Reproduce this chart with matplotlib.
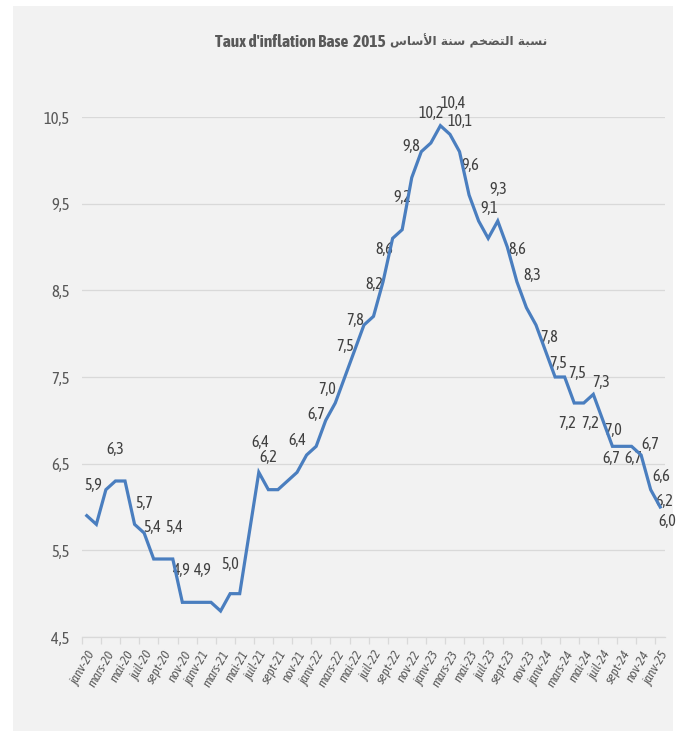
import numpy as np
import matplotlib
matplotlib.use("Agg")
import matplotlib.pyplot as plt
from matplotlib import font_manager
from matplotlib.patches import Rectangle

# monthly inflation rate, janv-20 .. janv-25
months = ["janv", "févr", "mars", "avr", "mai", "juin",
          "juil", "août", "sept", "oct", "nov", "déc"]
years = ["20", "21", "22", "23", "24", "25"]
categories = [m + "-" + y for y in years for m in months][:61]

rate = [5.9, 5.8, 6.2, 6.3, 6.3, 5.8, 5.7, 5.4, 5.4, 5.4, 4.9, 4.9,
        4.9, 4.9, 4.8, 5.0, 5.0, 5.7, 6.4, 6.2, 6.2, 6.3, 6.4, 6.6,
        6.7, 7.0, 7.2, 7.5, 7.8, 8.1, 8.2, 8.6, 9.1, 9.2, 9.8, 10.1,
        10.2, 10.4, 10.3, 10.1, 9.6, 9.3, 9.1, 9.3, 9.0, 8.6, 8.3, 8.1,
        7.8, 7.5, 7.5, 7.2, 7.2, 7.3, 7.0, 6.7, 6.7, 6.7, 6.6, 6.2,
        6.0]

# which points carry a data label, and where the label sits (pixels)
label_idx = [0, 3, 6, 7, 9, 10, 12, 15, 18, 19, 22, 24, 25, 27, 28, 30,
             31, 33, 34, 36, 37, 39, 40, 42, 43, 45, 46, 48, 49, 50, 51,
             52, 53, 54, 55, 56, 57, 58, 59, 60]
label_off = [(6, 30), (0, 32), (0, 30), (-1, 31), (1, 31), (-1, 32), (1, 32),
             (0, 29), (1, 30), (0, 32), (0, 32), (0, 32), (1, 31), (0, 31),
             (1, 31), (1, 32), (1, 32), (0, 32), (0, 31), (0, 30), (13, 22),
             (1, 30), (1, 30), (1, 30), (1, 31), (0, 32), (6, 32), (4, 14),
             (3, 14), (12, 4), (-7, -20), (6, -20), (8, 12), (10, -10),
             (-1, -12), (11, -12), (19, 2), (20, -21), (14, -12), (7, -15)]

yticks = [4.5, 5.5, 6.5, 7.5, 8.5, 9.5, 10.5]

# title, arabic part written in visual order with presentation forms
title_fr = "Taux d'inflation Base  2015"
ar_asas = "\uFEB1\uFE8E\uFEB3\uFEF7\uFE8D"
ar_sana = "\uFE94\uFEE8\uFEB3"
ar_tadakhum = "\uFEE2\uFEA8\uFEC0\uFE98\uFEDF\uFE8D"
ar_nisba = "\uFE94\uFE92\uFEB4\uFEE7"
title_ar = ar_asas + " " + ar_sana + " " + ar_tadakhum + " " + ar_nisba

# look for a narrow face (reference uses a condensed font), prefer one with a bold
weights = {}
for f in font_manager.fontManager.ttflist:
    if "Narrow" in f.name or "Condensed" in f.name:
        w = f.weight if isinstance(f.weight, int) else 400
        weights.setdefault(f.name, set()).add(w)
narrow = None
for name, ws in weights.items():
    if max(ws) >= 600:
        narrow = name
        break
if narrow is None and weights:
    narrow = list(weights)[0]
if narrow is None:
    narrow = "Liberation Sans"
fam = [narrow, "DejaVu Sans"]

line_col = "#4A7EBF"
grid_col = "#D9D9D9"
txt_col = "#595959"
bg = "#F2F2F2"

fig = plt.figure(figsize=(6.78, 7.31), dpi=100, facecolor="white")
fig.patches.append(Rectangle((13 / 678, 0), 660 / 678, 725 / 731,
                             transform=fig.transFigure, facecolor=bg,
                             edgecolor="none", zorder=-10))
ax = fig.add_axes([82 / 678, 94 / 731, 583 / 678, 520 / 731])
ax.set_facecolor(bg)

x = np.arange(len(rate))
ax.plot(x, rate, color=line_col, lw=2.3, solid_joinstyle="miter", zorder=3)

for i, (dx, dy) in zip(label_idx, label_off):
    ax.annotate(f"{rate[i]:.1f}".replace(".", ","), (x[i], rate[i]),
                xytext=(dx, dy), textcoords="offset pixels",
                ha="center", va="center", fontsize=11.5, color="#404040",
                family=fam, zorder=2)

ax.set_xlim(-0.5, 60.5)
ax.set_ylim(4.5, 10.5)
ax.set_yticks(yticks)
ax.set_yticklabels([f"{v:.1f}".replace(".", ",") for v in yticks],
                   family=fam, fontsize=12, color=txt_col)
ax.tick_params(axis="y", length=0, pad=9)
ax.grid(axis="y", color=grid_col, lw=0.9)
ax.set_axisbelow(True)

ax.set_xticks(x[::2])
ax.set_xticklabels(categories[::2], rotation=60, ha="right", va="top",
                   rotation_mode="anchor", family=fam, fontsize=9.5,
                   style="italic", color=txt_col)
ax.set_xticks(np.arange(-0.5, 60.5, 2), minor=True)
ax.tick_params(axis="x", which="major", length=0, pad=8)
ax.tick_params(axis="x", which="minor", length=5, color=grid_col, width=0.9)

for s in ["top", "right", "left"]:
    ax.spines[s].set_visible(False)
ax.spines["bottom"].set_color(grid_col)
ax.spines["bottom"].set_linewidth(0.9)

fig.text(386 / 678, 1 - 42 / 731, title_fr, ha="right", va="center",
         fontsize=12.5, fontweight="bold", color=txt_col, family=fam)
fig.text(390 / 678, 1 - 41 / 731, title_ar, ha="left", va="center",
         fontsize=8.8, fontweight="bold", color=txt_col, family="DejaVu Sans")

fig.savefig("out.png", dpi=100, facecolor=fig.get_facecolor())
